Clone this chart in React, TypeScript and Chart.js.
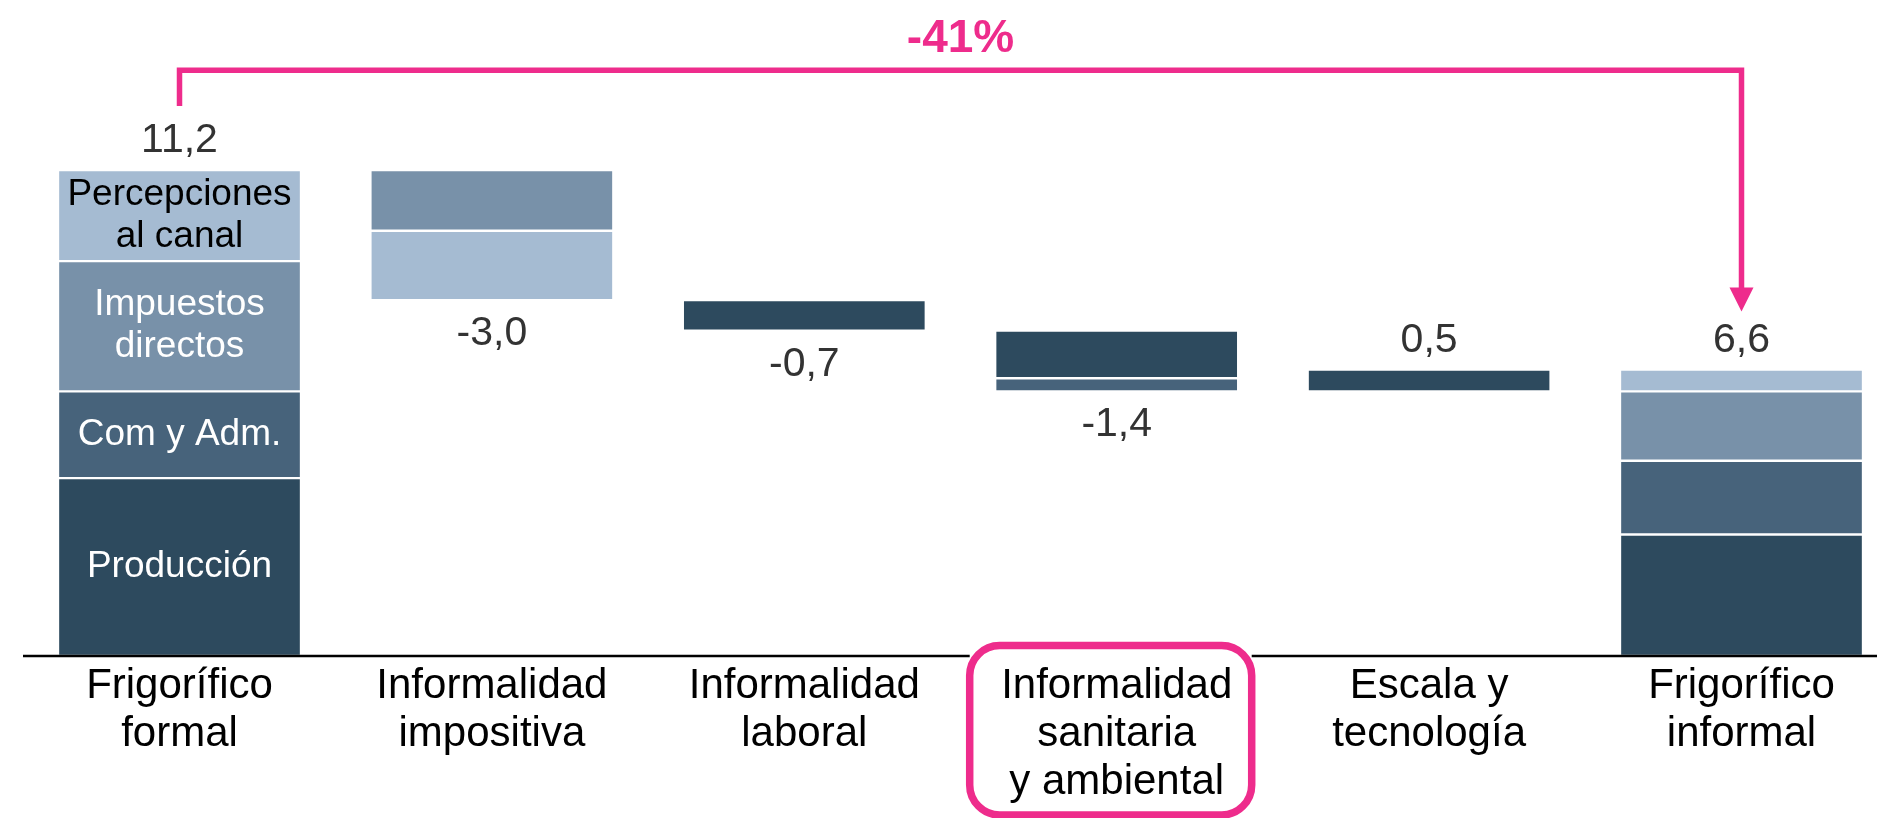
import React, { useEffect, useRef } from "react";
import { Chart, registerables } from "chart.js";

Chart.register(...registerables);

// ---------- data ----------
const categories: string[][] = [
  ["Frigorífico", "formal"],
  ["Informalidad", "impositiva"],
  ["Informalidad", "laboral"],
  ["Informalidad", "sanitaria", "y ambiental"],
  ["Escala y", "tecnología"],
  ["Frigorífico", "informal"],
];
const seriesNames = ["Producción", "Com y Adm.", "Impuestos directos", "Percepciones al canal"];
const seriesLabelLines: string[][] = [["Producción"], ["Com y Adm."], ["Impuestos", "directos"], ["Percepciones", "al canal"]];
const produccion = [4.1, 0, -0.7, -1.1, 0.5, 2.8];
const comAdm = [2.0, 0, 0, -0.3, 0, 1.7];
const impuestos = [3.0, -1.4, 0, 0, 0, 1.6];
const percepciones = [2.1, -1.6, 0, 0, 0, 0.5];
const isTotal = [true, false, false, false, false, true];
const valueLabels = ["11,2", "-3,0", "-0,7", "-1,4", "0,5", "6,6"];
const changeLabel = "-41%";
const highlightIndex = 3;
const bracketLevel = 13.5;

// ---------- styles ----------
const seriesColors = ["#2D4A5E", "#47637B", "#7891A9", "#A5BBD2"];
const seriesTextColors = ["#FFFFFF", "#FFFFFF", "#FFFFFF", "#000000"];
const PINK = "#EE2C8C";
const FONT = "'Liberation Sans', Arial, Helvetica, sans-serif";

const series = [produccion, comAdm, impuestos, percepciones];

function buildRanges(): (number[] | null)[][] {
  const ranges: (number[] | null)[][] = series.map(() => categories.map(() => null));
  let level = 0;
  categories.forEach((_, i) => {
    if (isTotal[i]) {
      let base = 0;
      series.forEach((s, k) => {
        if (s[i] !== 0) {
          ranges[k][i] = [base, base + s[i]];
          base += s[i];
        }
      });
      level = base;
    } else {
      series.forEach((s, k) => {
        if (s[i] !== 0) {
          ranges[k][i] = [level, level + s[i]];
          level += s[i];
        }
      });
    }
  });
  return ranges;
}

export default function App() {
  const canvasRef = useRef<HTMLCanvasElement | null>(null);

  useEffect(() => {
    const canvas = canvasRef.current;
    if (!canvas) return;
    const ranges = buildRanges();

    const extents = categories.map((_, i) => {
      let lo = Infinity;
      let hi = -Infinity;
      ranges.forEach((r) => {
        const v = r[i];
        if (v) {
          lo = Math.min(lo, v[0], v[1]);
          hi = Math.max(hi, v[0], v[1]);
        }
      });
      const delta = series.reduce((a, s) => a + s[i], 0);
      return { lo, hi, decrease: !isTotal[i] && delta < 0 };
    });

    const overlay = {
      id: "waterfallOverlay",
      afterDraw(chart: any) {
        const ctx = chart.ctx as CanvasRenderingContext2D;
        const xs = chart.scales.x;
        const ys = chart.scales.y;
        const y0 = ys.getPixelForValue(0);
        ctx.save();

        // highlight box geometry
        const hx = xs.getPixelForValue(highlightIndex);
        const bx1 = hx - 147;
        const bx2 = hx + 135;
        const by1 = y0 - 10.5;
        const by2 = 815;

        // axis line (split around the highlight box)
        ctx.strokeStyle = "#000";
        ctx.lineWidth = 2.5;
        ctx.beginPath();
        ctx.moveTo(23, y0);
        ctx.lineTo(bx1, y0);
        ctx.moveTo(bx2, y0);
        ctx.lineTo(chart.width, y0);
        ctx.stroke();

        // highlight box
        const r = 30;
        ctx.strokeStyle = PINK;
        ctx.lineWidth = 7.5;
        ctx.beginPath();
        ctx.moveTo(bx1 + r, by1);
        ctx.lineTo(bx2 - r, by1);
        ctx.arcTo(bx2, by1, bx2, by1 + r, r);
        ctx.lineTo(bx2, by2 - r);
        ctx.arcTo(bx2, by2, bx2 - r, by2, r);
        ctx.lineTo(bx1 + r, by2);
        ctx.arcTo(bx1, by2, bx1, by2 - r, r);
        ctx.lineTo(bx1, by1 + r);
        ctx.arcTo(bx1, by1, bx1 + r, by1, r);
        ctx.closePath();
        ctx.stroke();

        // inner labels on first bar
        ctx.textAlign = "center";
        ctx.textBaseline = "middle";
        ctx.font = `37px ${FONT}`;
        const x0 = xs.getPixelForValue(0);
        ranges.forEach((rg, k) => {
          const v = rg[0];
          if (!v) return;
          const cy = (ys.getPixelForValue(v[0]) + ys.getPixelForValue(v[1])) / 2;
          const lines = seriesLabelLines[k];
          ctx.fillStyle = seriesTextColors[k];
          lines.forEach((ln, j) => {
            ctx.fillText(ln, x0, cy + (j - (lines.length - 1) / 2) * 42);
          });
        });

        // value labels
        ctx.font = `41px ${FONT}`;
        ctx.fillStyle = "#333333";
        ctx.textBaseline = "alphabetic";
        extents.forEach((e, i) => {
          const x = xs.getPixelForValue(i);
          if (e.decrease) {
            ctx.fillText(valueLabels[i], x, ys.getPixelForValue(e.lo) + 45);
          } else {
            ctx.fillText(valueLabels[i], x, ys.getPixelForValue(e.hi) - 18);
          }
        });

        // bracket with arrow
        const xa = xs.getPixelForValue(0);
        const xb = xs.getPixelForValue(categories.length - 1);
        const yl = ys.getPixelForValue(bracketLevel);
        const yStart = ys.getPixelForValue(extents[0].hi) - 64;
        const tipY = ys.getPixelForValue(extents[categories.length - 1].hi) - 58;
        ctx.strokeStyle = PINK;
        ctx.fillStyle = PINK;
        ctx.lineWidth = 5.5;
        ctx.lineJoin = "miter";
        ctx.lineCap = "butt";
        ctx.beginPath();
        ctx.moveTo(xa, yStart);
        ctx.lineTo(xa, yl);
        ctx.lineTo(xb, yl);
        ctx.lineTo(xb, tipY - 22);
        ctx.stroke();
        ctx.beginPath();
        ctx.moveTo(xb - 12, tipY - 24);
        ctx.lineTo(xb + 12, tipY - 24);
        ctx.lineTo(xb, tipY);
        ctx.closePath();
        ctx.fill();

        ctx.font = `bold 46px ${FONT}`;
        ctx.textAlign = "center";
        ctx.fillText(changeLabel, (xa + xb) / 2, yl - 18.5);

        ctx.restore();
      },
    };

    const chart = new Chart(canvas, {
      type: "bar",
      data: {
        labels: categories,
        datasets: series.map((_, k) => ({
          label: seriesNames[k],
          data: ranges[k] as any,
          backgroundColor: seriesColors[k],
          borderColor: "#FFFFFF",
          borderWidth: { top: 1.5, bottom: 1.5, left: 0.5, right: 0.5 } as any,
          borderSkipped: false,
          grouped: false,
          barThickness: 241,
          clip: false as any,
        })),
      },
      options: {
        animation: false,
        responsive: true,
        maintainAspectRatio: false,
        layout: { padding: { left: 179.5, right: 135.5, top: 48.5, bottom: 6 } },
        plugins: {
          legend: { display: false },
          tooltip: { enabled: false },
        },
        scales: {
          x: {
            offset: false,
            grid: { display: false, drawTicks: false },
            border: { display: false },
            ticks: {
              autoSkip: false,
              maxRotation: 0,
              minRotation: 0,
              padding: 6,
              color: "#000000",
              font: { family: FONT, size: 42, lineHeight: 48 / 42 },
            },
          },
          y: {
            display: false,
            min: 0,
            max: 14,
          },
        },
      },
      plugins: [overlay],
    });

    return () => chart.destroy();
  }, []);

  return (
    <div style={{ position: "absolute", left: 0, top: 0, width: 1877, height: 818, background: "#fff" }}>
      <canvas ref={canvasRef} />
    </div>
  );
}
